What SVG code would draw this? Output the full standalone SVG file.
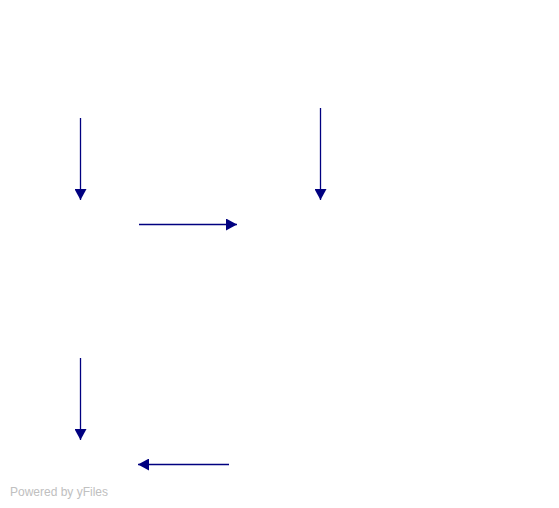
<svg xmlns="http://www.w3.org/2000/svg" width="559" height="508" viewBox="0 0 559 508">
<style>
.edge{stroke:#000080;stroke-width:1.3;fill:none;marker-end:url(#arrow)}
.credit{font-family:"Liberation Sans",Arial,sans-serif;font-size:12px;fill:#c0c0c0}
</style>
<defs>
<marker id="arrow" markerUnits="userSpaceOnUse" markerWidth="12" markerHeight="12" refX="11" refY="6" orient="auto" viewBox="0 0 12 12">
<path d="M0,0 L11,6 L0,12 z" fill="#000080"/>
</marker>
</defs>
<rect width="559" height="508" fill="#ffffff"/>
<g id="edges">
<line class="edge" x1="80.5" y1="118" x2="80.5" y2="200"/>
<line class="edge" x1="320.5" y1="108" x2="320.5" y2="200"/>
<line class="edge" x1="139" y1="224.5" x2="237" y2="224.5"/>
<line class="edge" x1="80.5" y1="358" x2="80.5" y2="440"/>
<line class="edge" x1="229" y1="464.5" x2="138" y2="464.5"/>
</g>
<text class="credit" x="10" y="496">Powered by yFiles</text>
</svg>
